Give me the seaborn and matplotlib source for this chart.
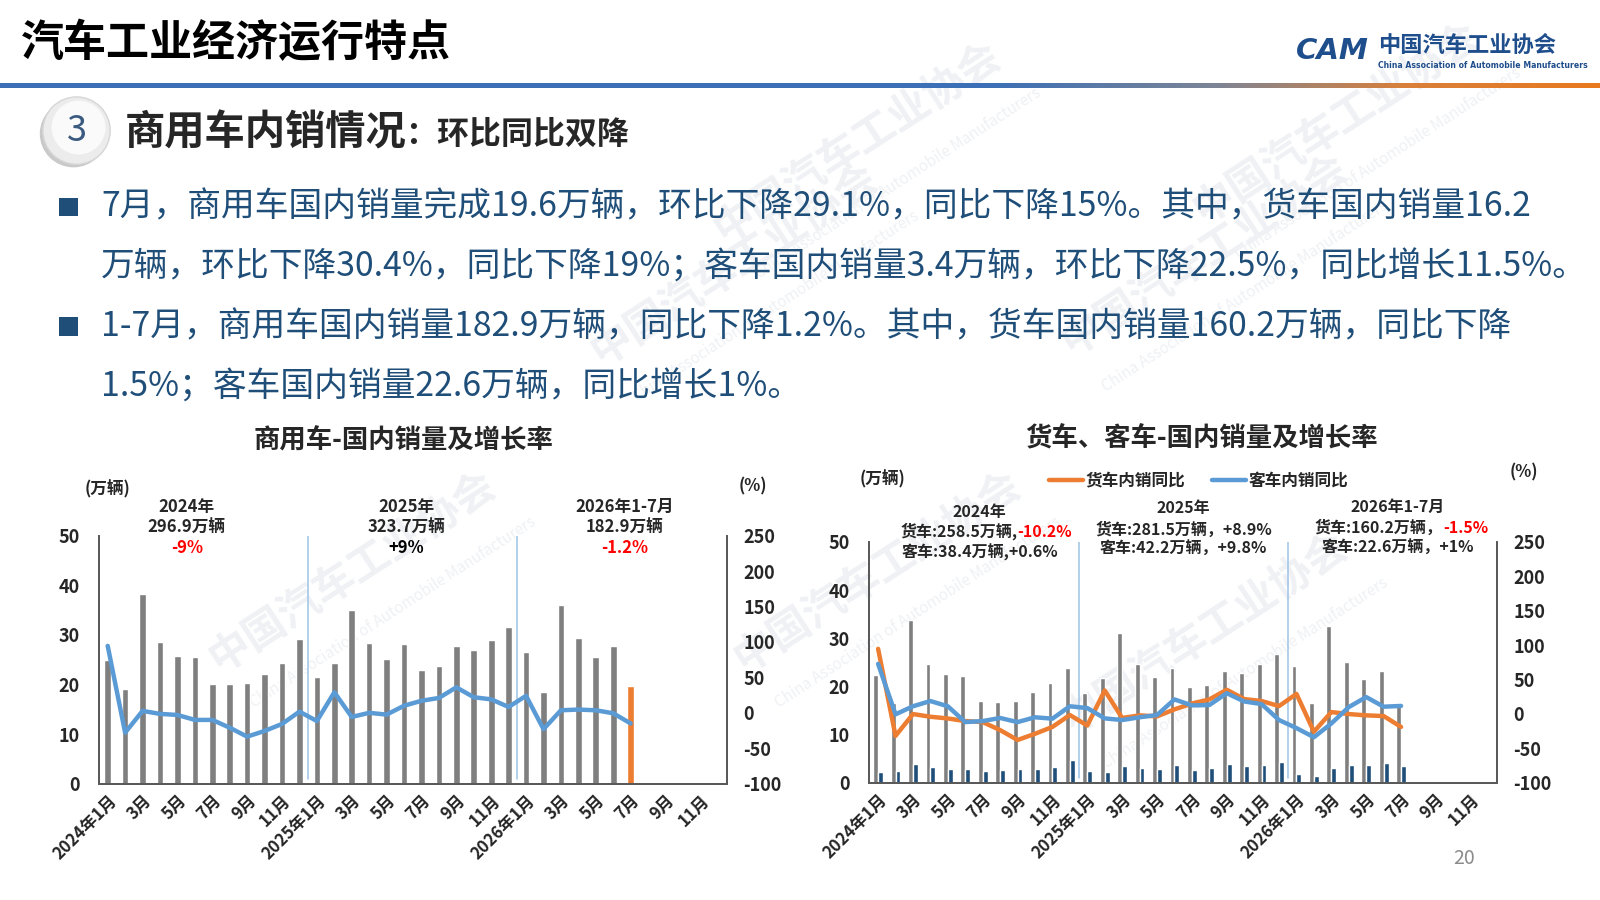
import numpy as np
import pandas as pd
import matplotlib.pyplot as plt
import matplotlib.patches as mpatches
from matplotlib.colors import LinearSegmentedColormap
from matplotlib.lines import Line2D
import seaborn as sns

# 1. Dados
meses = [f"{a}-{m:02d}" for a in (2024, 2025, 2026) for m in range(1, 13)]
rotulos_x = ["2024年1月", "3月", "5月", "7月", "9月", "11月",
             "2025年1月", "3月", "5月", "7月", "9月", "11月",
             "2026年1月", "3月", "5月", "7月", "9月", "11月"]

# 商用车 国内销量 (万辆) e 同比 (%)
cv_vendas = [25.0, 19.0, 38.2, 28.5, 25.8, 25.6, 20.0, 20.0, 20.2, 22.2, 24.4, 29.1,
             21.6, 24.4, 35.1, 28.3, 25.2, 28.1, 23.0, 23.8, 27.7, 26.9, 28.9, 31.5,
             26.6, 18.4, 36.1, 29.3, 25.6, 27.7, 19.6]
cv_yoy = [94.5, -28, 2.7, -1.5, -3, -10, -10, -21, -33.6, -25.6, -15.7, 1.7,
          -11.6, 29, -5.8, 0, -2.5, 10, 17, 21, 36, 22, 19, 8.3,
          24, -23, 3.6, 4.6, 3.6, -0.6, -15]

# 货车 / 客车 国内销量 (万辆)
caminhao = [22.4, 16.5, 33.8, 24.7, 22.6, 22.2, 16.9, 16.7, 16.9, 18.8, 20.7, 23.8,
            18.6, 21.7, 31.1, 24.7, 21.9, 23.8, 19.9, 20.3, 23.2, 22.8, 24.7, 26.7,
            24.2, 16.5, 32.6, 25.1, 21.5, 23.2, 16.2]
onibus = [2.2, 2.4, 3.8, 3.2, 2.8, 2.9, 2.4, 2.6, 2.9, 2.9, 3.2, 4.7,
          2.4, 2.2, 3.5, 3.1, 2.8, 3.6, 2.7, 3.0, 3.8, 3.5, 3.75, 4.2,
          1.9, 1.4, 3.0, 3.6, 3.6, 4.0, 3.4]
caminhao_yoy = [94.5, -32, -0.3, -4.2, -6.7, -10.5, -12, -23.6, -38, -29, -19, -1.7,
                -17, 34, -6, -2.2, -3.7, 6.5, 15, 21, 35, 21.5, 18.6, 11.3,
                29, -26, 2.6, -0.3, -2.2, -3.2, -19]
onibus_yoy = [72.6, -0.7, 11, 18.6, 11, -12, -10.5, -6, -12, -5, -7, 11,
              8.4, -6.6, -9, -5, -1.7, 21, 12.3, 12.8, 30, 18, 14.2, -9,
              -20.7, -34, -14, 9.8, 24.4, 10.4, 11.5]

# 2. Estilo
sns.set_style("white")
plt.rcParams['font.family'] = ['Noto Sans CJK SC', 'DejaVu Sans']
plt.rcParams['axes.unicode_minus'] = False

AZUL_TXT = '#1F4E79'
CINZA = '#7f7f7f'
AZUL_ESC = '#1F4E79'
LARANJA = '#ED7D31'
AZUL_LINHA = '#5B9BD5'
VERMELHO = '#FF0000'

W, H = 1568, 882


def fx(x):
    return x / W


def fy(y):
    return 1 - y / H


fig = plt.figure(figsize=(16, 9), dpi=100)
fig.patch.set_facecolor('white')

# 3. Marca d'água
for (x, y) in [(345, 560), (840, 140), (1310, 120), (720, 260), (1180, 250), (860, 560), (1180, 620)]:
    fig.text(fx(x), fy(y), '中国汽车工业协会', rotation=33, fontsize=30, fontweight='bold',
             color='#eff1f4', ha='center', va='center', zorder=-5)
    fig.text(fx(x + 40), fy(y + 40), 'China Association of Automobile Manufacturers', rotation=33,
             fontsize=11, color='#eff1f4', ha='center', va='center', zorder=-5)

# 4. Cabeçalho
fig.text(fx(20), fy(42), '汽车工业经济运行特点', fontsize=31, fontweight='heavy',
         color='black', va='center', ha='left')

cmap_linha = LinearSegmentedColormap.from_list(
    'linha', [(0, '#3B6FB6'), (0.62, '#3B6FB6'), (0.76, '#7d8596'), (0.88, '#d9803a'), (1, '#E8791F')])
ax_linha = fig.add_axes([0, fy(86.5), 1, 5 / 900])
ax_linha.imshow(np.linspace(0, 1, 512).reshape(1, -1), aspect='auto', cmap=cmap_linha)
ax_linha.axis('off')

# logotipo
fig.text(fx(1270), fy(50), 'CAM', fontsize=21, fontweight='bold', style='italic',
         color='#1F4E8C', ha='left', va='center', family='DejaVu Sans')
fig.text(fx(1350), fy(45), '中国汽车工业协会', fontsize=16, fontweight='bold',
         color='#1F4E8C', ha='left', va='center')
fig.text(fx(1350), fy(64), 'China Association of Automobile Manufacturers', fontsize=5.6,
         fontweight='bold', color='#1F4E8C', ha='left', va='center', family='DejaVu Sans')

# círculo "3"
raio_w, raio_h = 33 / W, 33 / H
fig.patches.append(mpatches.Ellipse((fx(72), fy(131)), 2 * raio_w, 2 * raio_h,
                                    transform=fig.transFigure, facecolor='#c9c9c9', edgecolor='none', zorder=1))
fig.patches.append(mpatches.Ellipse((fx(75), fy(128)), 2 * raio_w, 2 * raio_h,
                                    transform=fig.transFigure, facecolor='#ececec', edgecolor='#d6d6d6', lw=1, zorder=2))
fig.patches.append(mpatches.Ellipse((fx(77), fy(125)), 1.6 * raio_w, 1.6 * raio_h,
                                    transform=fig.transFigure, facecolor='#fafafa', edgecolor='none', zorder=3))
fig.text(fx(75), fy(128), '3', fontsize=26, color='#3A5A80', ha='center', va='center', zorder=4)

fig.text(fx(122), fy(130), '商用车内销情况', fontsize=29, fontweight='bold', ha='left', va='center')
fig.text(fx(397), fy(132), '：环比同比双降', fontsize=23, fontweight='bold', ha='left', va='center')

# 5. Texto com marcadores
linhas_texto = [
    (203, '7月，商用车国内销量完成19.6万辆，环比下降29.1%，同比下降15%。其中，货车国内销量16.2'),
    (262, '万辆，环比下降30.4%，同比下降19%；客车国内销量3.4万辆，环比下降22.5%，同比增长11.5%。'),
    (320, '1-7月，商用车国内销量182.9万辆，同比下降1.2%。其中，货车国内销量160.2万辆，同比下降'),
    (379, '1.5%；客车国内销量22.6万辆，同比增长1%。'),
]
for y, txt in linhas_texto:
    fig.text(fx(99), fy(y), txt, fontsize=24.3, color=AZUL_TXT, ha='left', va='center')
for y in (203, 320):
    fig.patches.append(mpatches.Rectangle((fx(58), fy(y + 9)), 18 / W, 18 / H,
                                          transform=fig.transFigure, facecolor=AZUL_TXT, edgecolor='none'))

# 6. Gráficos
df_cv = pd.DataFrame({'mes': meses[:len(cv_vendas)], 'vendas': cv_vendas})
cores_cv = {m: CINZA for m in df_cv['mes']}
cores_cv[df_cv['mes'].iloc[-1]] = LARANJA

df_tipo = pd.concat([
    pd.DataFrame({'mes': meses[:len(caminhao)], 'tipo': '货车', 'vendas': caminhao}),
    pd.DataFrame({'mes': meses[:len(onibus)], 'tipo': '客车', 'vendas': onibus}),
])


def estilo(ax, axr):
    ax.set_xlim(-0.5, 35.5)
    ax.set_ylim(0, 50)
    ax.set_yticks(range(0, 51, 10))
    axr.set_ylim(-100, 250)
    axr.set_yticks(range(-100, 251, 50))
    ax.set_xticks(range(0, 36, 2))
    ax.set_xticklabels(rotulos_x, rotation=45, ha='right', rotation_mode='anchor',
                       fontsize=12, fontweight='bold')
    ax.set_xlabel('')
    ax.set_ylabel('')
    axr.set_ylabel('')
    ax.tick_params(axis='y', length=0, pad=14, labelsize=13)
    ax.tick_params(axis='x', length=0, pad=6)
    axr.tick_params(axis='y', length=0, pad=12, labelsize=13)
    for lab in ax.get_yticklabels() + axr.get_yticklabels():
        lab.set_fontweight('bold')
    ax.set_facecolor('none')
    for a in (ax, axr):
        a.spines['top'].set_visible(False)
        for s in ('left', 'right', 'bottom'):
            a.spines[s].set_color('#595959')
            a.spines[s].set_linewidth(1.3)
    for xv in (11.5, 23.5):
        ax.axvline(xv, ymin=0.02, ymax=1, color='#9DC3E6', lw=1.1, zorder=0)


# 6.1 商用车
ax1 = fig.add_axes([fx(97), fy(768), fx(712) - fx(97), (768 - 525) / H])
sns.barplot(data=df_cv, x='mes', y='vendas', hue='mes', order=meses, palette=cores_cv,
            width=0.38, legend=False, ax=ax1, saturation=1)
ax1r = ax1.twinx()
sns.lineplot(x=np.arange(len(cv_yoy)), y=cv_yoy, ax=ax1r, color=AZUL_LINHA, linewidth=3.2)
estilo(ax1, ax1r)

fig.text(fx(395), fy(432), '商用车-国内销量及增长率', fontsize=19, fontweight='bold', ha='center', va='center')
fig.text(fx(105), fy(479), '(万辆)', fontsize=12, fontweight='bold', ha='center', va='center')
fig.text(fx(738), fy(477), '(%)', fontsize=12, fontweight='bold', ha='center', va='center')
anot_cv = [(183, '2024年', '296.9万辆', '-9%', VERMELHO),
           (398, '2025年', '323.7万辆', '+9%', 'black'),
           (612, '2026年1-7月', '182.9万辆', '-1.2%', VERMELHO)]
for x, a, b, c, cor in anot_cv:
    fig.text(fx(x), fy(497), a, fontsize=12, fontweight='bold', ha='center', va='center')
    fig.text(fx(x), fy(517), b, fontsize=12, fontweight='bold', ha='center', va='center')
    fig.text(fx(x), fy(537), c, fontsize=12, fontweight='bold', ha='center', va='center', color=cor)

# 6.2 货车 / 客车
ax2 = fig.add_axes([fx(852), fy(767), fx(1467) - fx(852), (767 - 531) / H])
sns.barplot(data=df_tipo, x='mes', y='vendas', hue='tipo', hue_order=['货车', '客车'], order=meses,
            palette={'货车': CINZA, '客车': AZUL_ESC}, width=0.56, dodge=True, legend=False,
            ax=ax2, saturation=1)
ax2r = ax2.twinx()
sns.lineplot(x=np.arange(len(caminhao_yoy)), y=caminhao_yoy, ax=ax2r, color=LARANJA, linewidth=3.2)
sns.lineplot(x=np.arange(len(onibus_yoy)), y=onibus_yoy, ax=ax2r, color=AZUL_LINHA, linewidth=3.2)
estilo(ax2, ax2r)

fig.text(fx(1177), fy(430), '货车、客车-国内销量及增长率', fontsize=19, fontweight='bold', ha='center', va='center')
fig.text(fx(865), fy(470), '(万辆)', fontsize=12, fontweight='bold', ha='center', va='center')
fig.text(fx(1493), fy(463), '(%)', fontsize=12, fontweight='bold', ha='center', va='center')

handles = [Line2D([], [], color=LARANJA, lw=3.2), Line2D([], [], color=AZUL_LINHA, lw=3.2)]
fig.legend(handles, ['货车内销同比', '客车内销同比'], loc='center', bbox_to_anchor=(fx(1175), fy(471)),
           ncol=2, frameon=False, handlelength=2.0, handletextpad=0.2, columnspacing=1.6,
           prop={'size': 12, 'weight': 'bold'})

fs = 11.5
fig.text(fx(960), fy(502), '2024年', fontsize=fs, fontweight='bold', ha='center', va='center')
fig.text(fx(997), fy(521), '货车:258.5万辆,', fontsize=fs, fontweight='bold', ha='right', va='center')
fig.text(fx(997), fy(521), '-10.2%', fontsize=fs, fontweight='bold', ha='left', va='center', color=VERMELHO)
fig.text(fx(960), fy(541), '客车:38.4万辆,+0.6%', fontsize=fs, fontweight='bold', ha='center', va='center')

fig.text(fx(1160), fy(498), '2025年', fontsize=fs, fontweight='bold', ha='center', va='center')
fig.text(fx(1160), fy(519), '货车:281.5万辆，+8.9%', fontsize=fs, fontweight='bold', ha='center', va='center')
fig.text(fx(1160), fy(538), '客车:42.2万辆，+9.8%', fontsize=fs, fontweight='bold', ha='center', va='center')

fig.text(fx(1370), fy(497), '2026年1-7月', fontsize=fs, fontweight='bold', ha='center', va='center')
fig.text(fx(1414), fy(517), '货车:160.2万辆，', fontsize=fs, fontweight='bold', ha='right', va='center')
fig.text(fx(1414), fy(517), '-1.5%', fontsize=fs, fontweight='bold', ha='left', va='center', color=VERMELHO)
fig.text(fx(1370), fy(537), '客车:22.6万辆，+1%', fontsize=fs, fontweight='bold', ha='center', va='center')

# número da página
fig.text(fx(1435), fy(841), '20', fontsize=14, color='#8c8c8c', ha='center', va='center')

fig.savefig('out.png', dpi=100, facecolor='white')
print("Figura salva em out.png")
